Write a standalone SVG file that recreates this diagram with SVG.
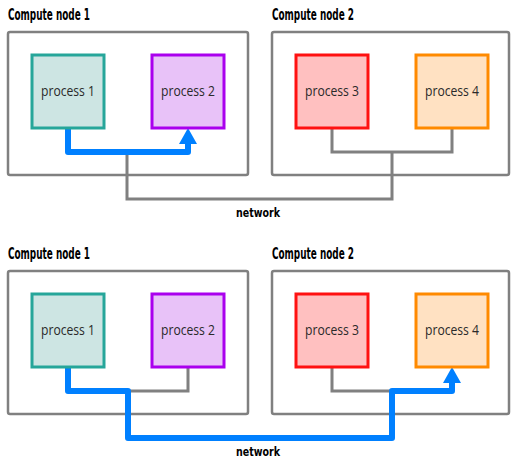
<svg xmlns="http://www.w3.org/2000/svg" width="511" height="458" viewBox="0 0 511 458">
<defs>
<style>
.title{font-family:"DejaVu Sans Condensed","DejaVu Sans",sans-serif;font-weight:bold;font-size:15px;fill:#000}
.plabel{font-family:"Open Sans","DejaVu Sans",sans-serif;font-weight:normal;font-size:15px;fill:#2a2a2a;text-anchor:middle}
.net{font-family:"DejaVu Sans Condensed","DejaVu Sans",sans-serif;font-weight:bold;font-size:13px;fill:#000;text-anchor:middle}
.outer{fill:#fff;stroke:#808080;stroke-width:2.5}
.p1{fill:#cde5e3;stroke:#26a69a;stroke-width:3}
.p2{fill:#e8c2f8;stroke:#aa00ee;stroke-width:3}
.p3{fill:#ffc0c0;stroke:#ff1111;stroke-width:3}
.p4{fill:#ffe1c2;stroke:#ff8a00;stroke-width:3}
.gray{fill:none;stroke:#808080;stroke-width:3}
.blue{fill:none;stroke:#0080ff;stroke-width:6;stroke-linejoin:round}
.head{fill:#0080ff}
</style>
</defs>

<!-- Top diagram -->
<g id="node1-top">
<text class="title" x="8" y="20" textLength="82" lengthAdjust="spacingAndGlyphs">Compute node 1</text>
<rect class="outer" x="8" y="32" width="240" height="143" rx="2"/>
</g>
<g id="node2-top">
<text class="title" x="272" y="20" textLength="82" lengthAdjust="spacingAndGlyphs">Compute node 2</text>
<rect class="outer" x="272" y="32" width="237" height="143" rx="2"/>
</g>

<g id="connectors-top">
<path class="gray" d="M332 128 V152 H452 V128 M392 152 V199 H127 V152"/>
<path class="blue" d="M68 128 V152 H188 V143"/>
<polygon class="head" points="188,128 197,144 179,144"/>
</g>

<g id="p1-top"><rect class="p1" x="32" y="55" width="72" height="73"/><text class="plabel" x="68" y="96" textLength="54" lengthAdjust="spacingAndGlyphs">process 1</text></g>
<g id="p2-top"><rect class="p2" x="152" y="55" width="72" height="73"/><text class="plabel" x="188" y="96" textLength="54" lengthAdjust="spacingAndGlyphs">process 2</text></g>
<g id="p3-top"><rect class="p3" x="296" y="55" width="72" height="73"/><text class="plabel" x="332" y="96" textLength="54" lengthAdjust="spacingAndGlyphs">process 3</text></g>
<g id="p4-top"><rect class="p4" x="416" y="55" width="72" height="73"/><text class="plabel" x="452" y="96" textLength="54" lengthAdjust="spacingAndGlyphs">process 4</text></g>
<text class="net" x="258" y="217" textLength="44" lengthAdjust="spacingAndGlyphs">network</text>

<!-- Bottom diagram -->
<g id="node1-bottom">
<text class="title" x="8" y="259" textLength="82" lengthAdjust="spacingAndGlyphs">Compute node 1</text>
<rect class="outer" x="8" y="271" width="240" height="143" rx="2"/>
</g>
<g id="node2-bottom">
<text class="title" x="272" y="259" textLength="82" lengthAdjust="spacingAndGlyphs">Compute node 2</text>
<rect class="outer" x="272" y="271" width="237" height="143" rx="2"/>
</g>

<g id="connectors-bottom">
<path class="gray" d="M188 367 V391 H128 M332 367 V391 H392"/>
<path class="blue" d="M68 367 V391 H128 V438 H392 V391 H452 V382"/>
<polygon class="head" points="452,367 461,383 443,383"/>
</g>

<g id="p1-bottom"><rect class="p1" x="32" y="294" width="72" height="73"/><text class="plabel" x="68" y="335" textLength="54" lengthAdjust="spacingAndGlyphs">process 1</text></g>
<g id="p2-bottom"><rect class="p2" x="152" y="294" width="72" height="73"/><text class="plabel" x="188" y="335" textLength="54" lengthAdjust="spacingAndGlyphs">process 2</text></g>
<g id="p3-bottom"><rect class="p3" x="296" y="294" width="72" height="73"/><text class="plabel" x="332" y="335" textLength="54" lengthAdjust="spacingAndGlyphs">process 3</text></g>
<g id="p4-bottom"><rect class="p4" x="416" y="294" width="72" height="73"/><text class="plabel" x="452" y="335" textLength="54" lengthAdjust="spacingAndGlyphs">process 4</text></g>
<text class="net" x="258" y="456" textLength="44" lengthAdjust="spacingAndGlyphs">network</text>
</svg>
